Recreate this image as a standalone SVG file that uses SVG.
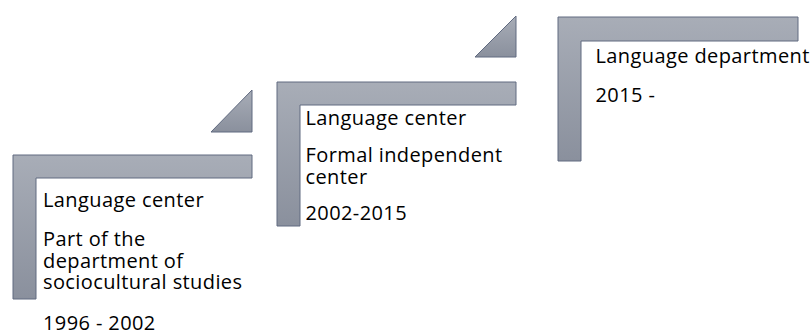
<svg xmlns="http://www.w3.org/2000/svg" width="812" height="335" viewBox="0 0 812 335">
  <defs>
    <linearGradient id="barFill" x1="0" y1="0" x2="0" y2="1">
      <stop offset="0" stop-color="#a8adb7"/>
      <stop offset="1" stop-color="#8a909d"/>
    </linearGradient>
    <style>
      .bend { fill: url(#barFill); stroke: #606a80; stroke-width: 1; }
      .arrow { fill: url(#barFill); stroke: #606a80; stroke-width: 1; }
      text { font-family: "Open Sans", "Liberation Sans", sans-serif; font-size: 20px; letter-spacing: 0.4px; fill: #000; }
    </style>
  </defs>

  <!-- step connectors -->
  <g id="connectors">
    <polygon class="arrow" points="252,90 252,132 211,132"/>
    <polygon class="arrow" points="516,16 516,57 475,57"/>
  </g>

  <!-- stage 1 -->
  <g id="stage1">
    <path class="bend" d="M13,155 H252 V178 H36 V299 H13 Z"/>
    <text x="43" y="207">Language center</text>
    <text x="43" y="246">Part of the</text>
    <text x="43" y="267.5">department of</text>
    <text x="43" y="289">sociocultural studies</text>
    <text x="43" y="330">1996 - 2002</text>
  </g>

  <!-- stage 2 -->
  <g id="stage2">
    <path class="bend" d="M277,82 H516 V105 H300 V226 H277 Z"/>
    <text x="305.5" y="125">Language center</text>
    <text x="305.5" y="161.5">Formal independent</text>
    <text x="305.5" y="184">center</text>
    <text x="305.5" y="220">2002-2015</text>
  </g>

  <!-- stage 3 -->
  <g id="stage3">
    <path class="bend" d="M558,17 H798 V41 H581 V161 H558 Z"/>
    <text x="595.5" y="62.5">Language department</text>
    <text x="595.5" y="101.5">2015 -</text>
  </g>
</svg>
